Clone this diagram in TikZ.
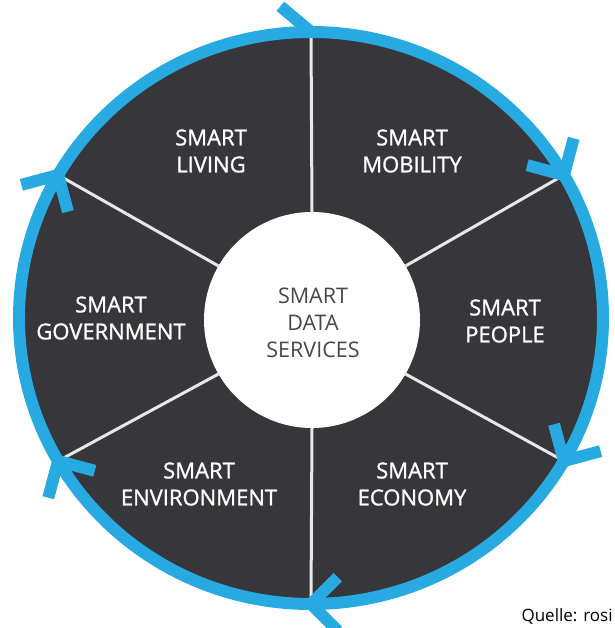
\documentclass[tikz,border=0pt]{standalone}
\usepackage{fontspec}
\setmainfont{Open Sans}
\newfontfamily\labelfont{Open Sans}[FakeBold=1.2]
\usetikzlibrary{calc}

\definecolor{ringblue}{HTML}{27A9E1}
\definecolor{diskdark}{HTML}{36363B}
\definecolor{spokegray}{HTML}{E8E8E8}
\definecolor{hubtext}{HTML}{474747}

\tikzset{
  disk/.style={fill=diskdark},
  ring/.style={draw=ringblue, line width=12pt},
  arm/.style={draw=ringblue, line width=12pt, line cap=butt, line join=miter},
  spoke/.style={draw=spokegray, line width=3pt},
  hubnode/.style={circle, fill=white, minimum size=216pt, inner sep=0pt},
  hublabel/.style={align=center, text=hubtext, font=\fontsize{21.5}{27}\selectfont},
  sector/.style={align=center, text=white, font=\labelfont\fontsize{22}{27}\selectfont},
  source/.style={anchor=base west, text=black, font=\fontsize{17}{20}\selectfont}
}

\begin{document}
\begin{tikzpicture}[x=1pt,y=1pt]
  \useasboundingbox (-311,-310) rectangle (303,318);

  % dark wheel
  \fill[disk] (0,0) ellipse [x radius=292, y radius=286];

  % hub
  \node[hubnode] (hub) at (1,-2) {};

  % points on the rim where spokes and arrows meet
  \foreach \a in {90,30,-30,-90,-150,150}
    \coordinate (r\a) at ({292*cos(\a)},{286*sin(\a)});

  % spokes
  \foreach \a in {90,30,-30,-90,-150,150}
    \draw[spoke] (hub.\a) -- (r\a);

  % blue rim
  \draw[ring] (0,0) ellipse [x radius=292, y radius=286];

  % clockwise chevrons on the rim
  \draw[arm] ($(r90)+(140:40)$) -- (r90);
  \foreach \a in {30,-30,-90,-150,150}
    \draw[arm] ($(r\a)+(\a+45:38)$) -- (r\a) -- ($(r\a)+(\a+135:38)$);

  % texts
  \node[hublabel] (hubtext) at (2,-5) {SMART\\DATA\\SERVICES};
  \node[sector] (living) at (-100,167) {SMART\\LIVING};
  \node[sector] (mobility) at (101,167) {SMART\\MOBILITY};
  \node[sector] (people) at (194,-3) {SMART\\PEOPLE};
  \node[sector] (economy) at (101,-166) {SMART\\ECONOMY};
  \node[sector] (environment) at (-112,-166) {SMART\\ENVIRONMENT};
  \node[sector] (government) at (-200,0) {SMART\\GOVERNMENT};

  \node[source] (quelle) at (207,-303) {Quelle: rosi};
\end{tikzpicture}
\end{document}
